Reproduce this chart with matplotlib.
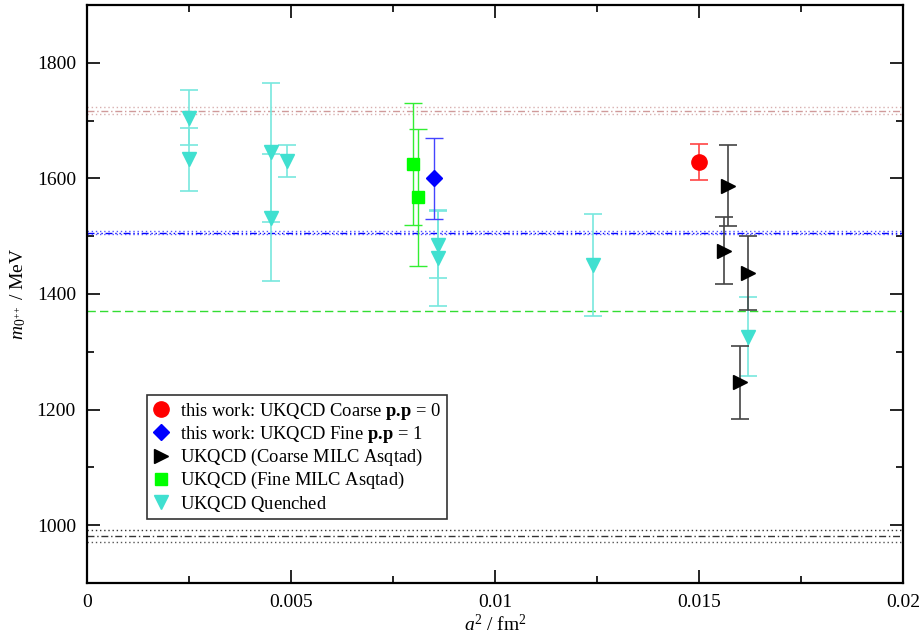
import numpy as np
import matplotlib
matplotlib.use("Agg")
import matplotlib.pyplot as plt
from matplotlib.lines import Line2D
from matplotlib.ticker import MultipleLocator

# fonts (Times-like)
plt.rcParams['font.family'] = ['Liberation Serif', 'DejaVu Serif']
plt.rcParams['mathtext.fontset'] = 'custom'
plt.rcParams['mathtext.rm'] = 'Liberation Serif'
plt.rcParams['mathtext.it'] = 'Liberation Serif:italic'
plt.rcParams['mathtext.bf'] = 'Liberation Serif:bold'

# data: a^2 [fm^2], mass [MeV], error [MeV]
coarse_x = [0.0150]
coarse_y = [1629]
coarse_err = [31]

fine_x = [0.0085]
fine_y = [1600]
fine_err = [70]

milc_coarse_x = [0.0157, 0.0156, 0.0162, 0.0160]
milc_coarse_y = [1587, 1475, 1436, 1247]
milc_coarse_err = [70, 58, 64, 63]

milc_fine_x = [0.0080, 0.0081]
milc_fine_y = [1625, 1567]
milc_fine_err = [105, 118]

quenched_x = [0.0025, 0.0025, 0.0045, 0.0045, 0.0049, 0.0086, 0.0086, 0.0124, 0.0162]
quenched_y = [1705, 1633, 1645, 1532, 1630, 1485, 1462, 1450, 1326]
quenched_err = [48, 54, 120, 110, 28, 58, 83, 88, 68]

# horizontal reference bands (central, error)
band_red = (1717, 6)
band_blue = (1506, 3)
line_green = 1371
band_black = (981, 10)

fig = plt.figure(figsize=(9.24, 6.41), dpi=100)
ax = fig.add_axes([0.0942, 0.0905, 0.8831, 0.9017])

# reference lines
ax.axhline(band_red[0], color='#d09a9a', lw=1, ls=(0, (5, 2, 1, 2)))
ax.axhline(band_red[0] + band_red[1], color='#d8b0b0', lw=1, ls=(0, (1, 2)))
ax.axhline(band_red[0] - band_red[1], color='#d8b0b0', lw=1, ls=(0, (1, 2)))
ax.axhline(band_blue[0], color='#0000ff', lw=1, ls=(0, (5, 2, 1, 2, 1, 2)))
ax.axhline(band_blue[0] + band_blue[1], color='#5555ff', lw=1, ls=(0, (1, 2)))
ax.axhline(band_blue[0] - band_blue[1], color='#5555ff', lw=1, ls=(0, (1, 2)))
ax.axhline(line_green, color='#33dd33', lw=1, ls=(0, (6, 3)))
ax.axhline(band_black[0], color='#333333', lw=1, ls=(0, (5, 2, 1, 2)))
ax.axhline(band_black[0] + band_black[1], color='#333333', lw=1, ls=(0, (1, 2)))
ax.axhline(band_black[0] - band_black[1], color='#555555', lw=1, ls=(0, (1, 2)))

cap = 6.5
ax.errorbar(quenched_x, quenched_y, yerr=quenched_err, fmt='v', ms=10,
            color='#40e0d0', ecolor='#78e8de', elinewidth=1.2, capsize=cap, capthick=1.2)
ax.errorbar(milc_fine_x, milc_fine_y, yerr=milc_fine_err, fmt='s', ms=9,
            color='#00ff00', ecolor='#33ee33', elinewidth=1, capsize=cap, capthick=1)
ax.errorbar(fine_x, fine_y, yerr=fine_err, fmt='D', ms=8,
            color='#0000ff', ecolor='#4444ff', elinewidth=1, capsize=cap, capthick=1)
ax.errorbar(milc_coarse_x, milc_coarse_y, yerr=milc_coarse_err, fmt='>', ms=10,
            color='black', ecolor='#444444', elinewidth=1.2, capsize=cap, capthick=1.2)
ax.errorbar(coarse_x, coarse_y, yerr=coarse_err, fmt='o', ms=11,
            color='#ff0000', ecolor='#ff4444', elinewidth=1.2, capsize=cap, capthick=1.2)

ax.set_xlim(0, 0.02)
ax.set_ylim(900, 1900)
ax.xaxis.set_minor_locator(MultipleLocator(0.0025))
ax.yaxis.set_minor_locator(MultipleLocator(100))
ax.set_xticks([0, 0.005, 0.01, 0.015, 0.02])
ax.set_xticklabels(['0', '0.005', '0.01', '0.015', '0.02'])
ax.set_yticks([1000, 1200, 1400, 1600, 1800])
ax.tick_params(which='both', direction='in', top=True, right=True, labelsize=14, width=1.2)
ax.tick_params(which='major', length=9.5, pad=8)
ax.tick_params(which='minor', length=5)
for s in ax.spines.values():
    s.set_linewidth(1.6)

ax.set_xlabel(r'$a^2$ / fm$^2$', fontsize=14, labelpad=2)
ax.set_ylabel(r'$m_{0^{++}}$ / MeV', fontsize=14, labelpad=6)

handles = [
    Line2D([], [], ls='none', marker='o', ms=11, color='#ff0000'),
    Line2D([], [], ls='none', marker='D', ms=8, color='#0000ff'),
    Line2D([], [], ls='none', marker='>', ms=10, color='black'),
    Line2D([], [], ls='none', marker='s', ms=9, color='#00ff00'),
    Line2D([], [], ls='none', marker='v', ms=10, color='#40e0d0'),
]
# trailing thin space keeps every row in mathtext so the rows get equal heights
labels = [
    r'this work: UKQCD Coarse $\mathbf{p.\!p}$ = 0',
    r'this work: UKQCD Fine $\mathbf{p.\!p}$ = 1',
    r'UKQCD (Coarse MILC Asqtad)$\,$',
    r'UKQCD (Fine MILC Asqtad)$\,$',
    r'UKQCD Quenched$\,$',
]
leg = ax.legend(handles, labels, loc='upper left', bbox_to_anchor=(147 / 924, 1 - 395 / 641),
                bbox_transform=fig.transFigure, fontsize=13.3, frameon=True, fancybox=False,
                edgecolor='black', borderpad=0.3, labelspacing=0.12, handletextpad=0.6,
                handlelength=0.9, borderaxespad=0)
leg.get_frame().set_linewidth(1.2)

fig.savefig('out.png', dpi=100)
